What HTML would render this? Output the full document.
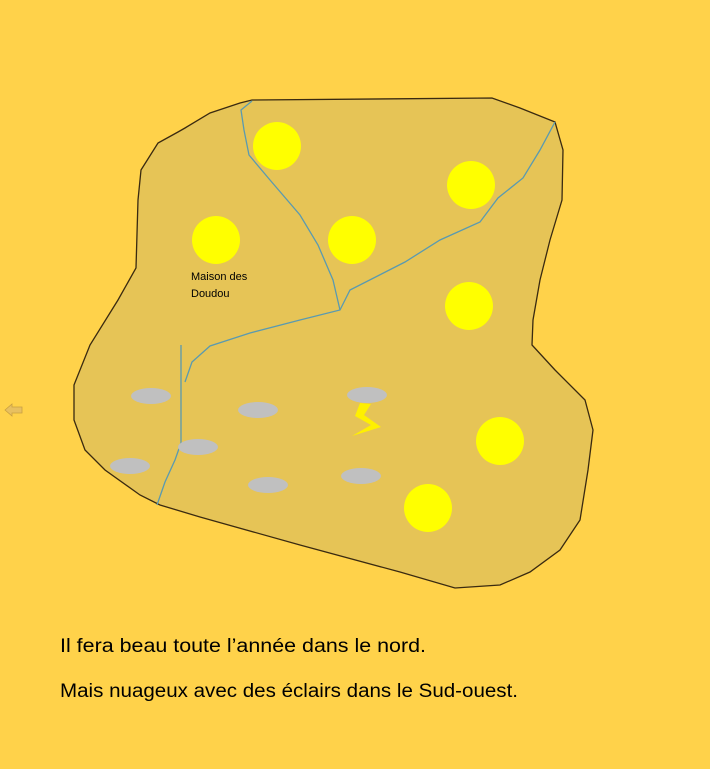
<!DOCTYPE html>
<html><head><meta charset="utf-8"><style>
html,body{margin:0;padding:0;background:#FFD24A;}
svg{display:block}
</style></head><body>
<svg width="710" height="769" viewBox="0 0 710 769">
<rect width="710" height="769" fill="#FFD24A"/>
<path fill="#E6C456" stroke="#3a2a10" stroke-width="1.3"
 d="M252,100 L492,98 L520,108 L555,122 L563,150 L562,200 L550,240 L540,280 L533,320 L532,345 L555,370 L585,400 L593,430 L588,470 L580,520 L560,550 L530,572 L500,585 L455,588 L400,572 L300,545 L200,517 L160,505 L140,495 L105,470 L85,450 L74,420 L74,385 L90,345 L118,300 L136,268 L138,200 L141,170 L158,143 L178,132 L185,128 L210,113 L240,103 Z"/>
<g fill="none" stroke="#5a9ab0" stroke-width="1.3">
<path d="M252,101 L241,110 L244,130 L249,155 L270,180 L300,215 L318,245 L333,280 L340,310"/>
<path d="M555,122 L540,150 L523,178 L498,198 L480,222 L440,240 L405,262 L350,290 L340,310 L300,320 L250,333 L210,346 L192,362 L185,382"/>
<path d="M181,345 L181,443 L175,460 L165,482 L157,505"/>
</g>
<g id="suns"></g>
<g id="clouds"></g>
<polygon fill="#FFF000" points="360,403 371,404 364,415 381,427 352,436 371,425 355,416"/>
<text x="191" y="280" font-family="Liberation Sans, sans-serif" font-size="11" fill="#000">Maison des</text>
<text x="191" y="297" font-family="Liberation Sans, sans-serif" font-size="11" fill="#000">Doudou</text>
<polygon fill="#E8C060" stroke="#c9a040" stroke-width="0.8" points="5,410 12,404 12,407 22,407 22,413 12,413 12,416"/>
<text x="60" y="652" font-family="Liberation Sans, sans-serif" font-size="19" fill="#000" textLength="366" lengthAdjust="spacingAndGlyphs">Il fera beau toute l’année dans le nord.</text>
<text x="60" y="697" font-family="Liberation Sans, sans-serif" font-size="19" fill="#000" textLength="458" lengthAdjust="spacingAndGlyphs">Mais nuageux avec des éclairs dans le Sud-ouest.</text>
</svg>
<script>
const sunX=[277,471,216,352,469,500,428];
const sunY=[146,185,240,240,306,441,508];
const cloudX=[151,258,367,198,130,268,361];
const cloudY=[396,410,395,447,466,485,476];
const NS='http://www.w3.org/2000/svg';
const sg=document.getElementById('suns');
sunX.forEach((x,i)=>{
 const c=document.createElementNS(NS,'circle');
 c.setAttribute('cx',x);c.setAttribute('cy',sunY[i]);c.setAttribute('r',24);c.setAttribute('fill','#FFFF00');
 
 
 sg.appendChild(c);
});
const cg=document.getElementById('clouds');
cloudX.forEach((x,i)=>{
 const e=document.createElementNS(NS,'ellipse');
 e.setAttribute('cx',x);e.setAttribute('cy',cloudY[i]);e.setAttribute('rx',20);e.setAttribute('ry',8);e.setAttribute('fill','#C0C0C0');
 
 
 cg.appendChild(e);
});
</script>
</body></html>
